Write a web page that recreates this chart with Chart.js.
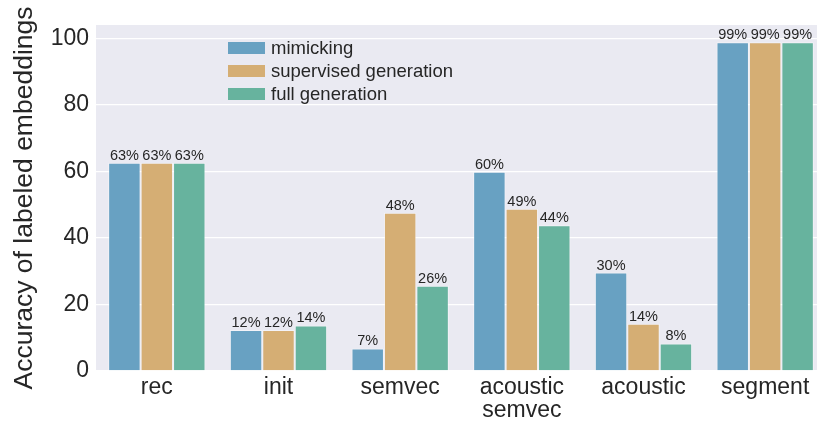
<!DOCTYPE html>
<html>
<head>
<meta charset="utf-8">
<script src="https://cdn.jsdelivr.net/npm/chart.js@4.4.0/dist/chart.umd.min.js"></script>
<style>
    html, body { margin: 0; padding: 0; background: #ffffff; overflow: hidden; }
    #wrap { position: relative; width: 826px; height: 423px; }
</style>
</head>
<body>
<div id="wrap"><canvas id="chart"></canvas></div>
<script>
// Categories and series (accuracy in %)
const categories = ['rec', 'init', 'semvec', ['acoustic', 'semvec'], 'acoustic', 'segment'];
const seriesNames = ['mimicking', 'supervised generation', 'full generation'];
const mimicking = [62.6, 12.3, 6.8, 59.9, 29.6, 98.8];
const supervisedGeneration = [62.6, 12.3, 47.6, 48.8, 14.2, 98.8];
const fullGeneration = [62.6, 13.7, 25.6, 43.8, 8.3, 98.8];
const yTicks = [0, 20, 40, 60, 80, 100];

const colors = ['#68a1c2', '#d5ae74', '#67b39e'];
const fontFamily = 'Arial, "Liberation Sans", Helvetica, sans-serif';
const textColor = '#262626';

document.addEventListener('DOMContentLoaded', function() {
    const ctx = document.getElementById('chart').getContext('2d');

    // Plot background (seaborn darkgrid style)
    const plotBackground = {
        id: 'plotBackground',
        beforeDraw(chart) {
            const a = chart.chartArea;
            const c = chart.ctx;
            c.save();
            c.fillStyle = '#eaeaf2';
            c.fillRect(a.left, a.top, a.right - a.left, a.bottom - a.top);
            c.restore();
        }
    };

    // Percent labels on top of bars
    const barLabels = {
        id: 'barLabels',
        afterDatasetsDraw(chart) {
            const c = chart.ctx;
            c.save();
            c.font = '14.5px ' + fontFamily;
            c.fillStyle = textColor;
            c.textAlign = 'center';
            c.textBaseline = 'alphabetic';
            chart.data.datasets.forEach((ds, i) => {
                chart.getDatasetMeta(i).data.forEach((bar, j) => {
                    c.fillText(Math.round(ds.data[j]) + '%', bar.x, bar.y - 3);
                });
            });
            c.restore();
        }
    };

    // Legend drawn inside the plot area
    const innerLegend = {
        id: 'innerLegend',
        afterDraw(chart) {
            const c = chart.ctx;
            const x0 = 228, y0 = 48, rowH = 23;
            c.save();
            c.font = '18.5px ' + fontFamily;
            c.textBaseline = 'middle';
            c.textAlign = 'left';
            chart.data.datasets.forEach((ds, i) => {
                const y = y0 + i * rowH;
                c.fillStyle = ds.backgroundColor;
                c.fillRect(x0, y - 6, 37, 12);
                c.fillStyle = textColor;
                c.fillText(ds.label, x0 + 43, y + 1);
            });
            c.restore();
        }
    };

    const seriesData = [mimicking, supervisedGeneration, fullGeneration];

    new Chart(ctx, {
        type: 'bar',
        data: {
            labels: categories,
            datasets: seriesNames.map((name, i) => ({
                label: name,
                data: seriesData[i],
                backgroundColor: colors[i],
                borderColor: 'rgba(255, 255, 255, 0.45)',
                borderWidth: 1,
                categoryPercentage: 0.8,
                barPercentage: 1.0
            }))
        },
        options: {
            responsive: true,
            maintainAspectRatio: false,
            animation: false,
            layout: {
                padding: { top: 25, right: 0, bottom: 0, left: 0 }
            },
            plugins: {
                legend: { display: false },
                tooltip: { enabled: false }
            },
            scales: {
                x: {
                    grid: { display: false, drawTicks: false },
                    border: { display: false },
                    ticks: {
                        color: textColor,
                        font: { family: fontFamily, size: 23, lineHeight: 1.0 },
                        padding: 5,
                        maxRotation: 0
                    },
                    afterFit(scale) { scale.height = 52; }
                },
                y: {
                    min: 0,
                    max: 104,
                    afterBuildTicks(scale) {
                        scale.ticks = yTicks.map(v => ({ value: v }));
                    },
                    grid: { color: '#ffffff', lineWidth: 1.3, drawTicks: false },
                    border: { display: false },
                    ticks: {
                        color: textColor,
                        font: { family: fontFamily, size: 23 },
                        padding: 7
                    },
                    title: {
                        display: true,
                        text: 'Accuracy of labeled embeddings',
                        color: textColor,
                        font: { family: fontFamily, size: 26.5, lineHeight: 1.0 },
                        padding: { top: 11, bottom: 0 }
                    },
                    afterFit(scale) { scale.width = 96; }
                }
            }
        },
        plugins: [plotBackground, barLabels, innerLegend]
    });
});
</script>
</body>
</html>
